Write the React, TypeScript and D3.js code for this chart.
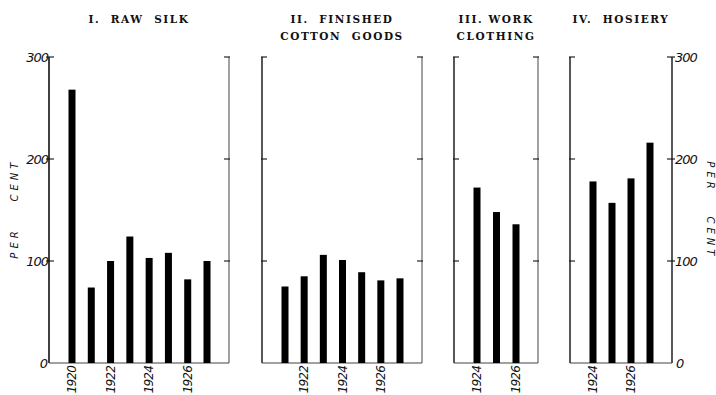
import React from "react";
import * as d3 from "d3";

const rawSilkYears = [1920, 1921, 1922, 1923, 1924, 1925, 1926, 1927];
const rawSilkValues = [268, 74, 100, 124, 103, 108, 82, 100];
const rawSilkLabels = [1920, 1922, 1924, 1926];

const cottonYears = [1921, 1922, 1923, 1924, 1925, 1926, 1927];
const cottonValues = [75, 85, 106, 101, 89, 81, 83];
const cottonLabels = [1922, 1924, 1926];

const workYears = [1924, 1925, 1926];
const workValues = [172, 148, 136];
const workLabels = [1924, 1926];

const hosieryYears = [1924, 1925, 1926, 1927];
const hosieryValues = [178, 157, 181, 216];
const hosieryLabels = [1924, 1926];

const yTicks = [0, 100, 200, 300];
const yLabelWords = ["PER", "CENT"];

const panels = [
  { title: ["I.  RAW  SILK"], years: rawSilkYears, values: rawSilkValues, labels: rawSilkLabels, left: 49, right: 229 },
  { title: ["II.  FINISHED", "COTTON  GOODS"], years: cottonYears, values: cottonValues, labels: cottonLabels, left: 262, right: 422 },
  { title: ["III. WORK", "CLOTHING"], years: workYears, values: workValues, labels: workLabels, left: 454, right: 538 },
  { title: ["IV.  HOSIERY"], years: hosieryYears, values: hosieryValues, labels: hosieryLabels, left: 570, right: 672 },
];

const W = 716;
const H = 395;
const yScale = d3.scaleLinear().domain([0, 300]).range([363, 57]);
const numFont = "'DejaVu Sans', sans-serif";
const titleFont = "'DejaVu Serif', 'Liberation Serif', serif";

export default function App() {
  const y0 = yScale(0);
  const yTop = yScale(300);
  return (
    <svg width={W} height={H} style={{ position: "absolute", left: 0, top: 0, background: "#fff" }}>
      <rect x={0} y={0} width={W} height={H} fill="#fff" />
      {panels.map((p, i) => {
        const x = d3.scalePoint<number>().domain(p.years).range([p.left + 23, p.right - 22]);
        const cx = (p.left + p.right) / 2;
        const isFirst = i === 0;
        const isLast = i === panels.length - 1;
        return (
          <g key={i}>
            {p.title.map((t, j) => (
              <text key={j} x={cx} y={23 + j * 16.5} textAnchor="middle" fontFamily={titleFont}
                fontWeight="bold" fontSize={10.5} letterSpacing={1.6} fill="#111" style={{ whiteSpace: "pre" }}>{t}</text>
            ))}
            {/* frame */}
            <line x1={p.left} x2={p.left} y1={yTop} y2={y0} stroke="#111" strokeWidth={isFirst ? 1.6 : 1.4} />
            <line x1={p.right} x2={p.right} y1={yTop} y2={y0} stroke={isLast ? "#111" : "#555"} strokeWidth={isLast ? 1.4 : 1.1} />
            <line x1={p.left} x2={p.right} y1={y0} y2={y0} stroke="#444" strokeWidth={1.1} />
            {yTicks.filter((t) => t > 0).map((t) => (
              <g key={t}>
                <line x1={p.left - (isFirst ? 3 : 1)} x2={p.left + 5} y1={yScale(t)} y2={yScale(t)} stroke="#111" strokeWidth={1.1} />
                <line x1={p.right - 5} x2={p.right + (isLast ? 3 : 1)} y1={yScale(t)} y2={yScale(t)} stroke="#111" strokeWidth={1.1} />
              </g>
            ))}
            {/* bars */}
            {p.years.map((yr, k) => (
              <rect key={yr} x={(x(yr) as number) - 3.5} width={7} y={yScale(p.values[k])}
                height={y0 - yScale(p.values[k])} fill="#000" />
            ))}
            {/* year labels */}
            {p.labels.map((yr) => (
              <text key={yr} transform={`translate(${(x(yr) as number) + 4.2},${y0 + 3}) rotate(-90)`}
                textAnchor="end" fontFamily={numFont} fontStyle="italic" fontSize={12} letterSpacing={-0.8} fill="#111">{yr}</text>
            ))}
          </g>
        );
      })}
      {/* left axis labels */}
      {yTicks.map((t) => (
        <text key={"l" + t} x={t === 0 ? 47 : 48} y={yScale(t) + 4.5} textAnchor="end" fontFamily={numFont}
          fontStyle="italic" fontSize={13} letterSpacing={-1} fill="#111">{t}</text>
      ))}
      {yTicks.map((t) => (
        <text key={"r" + t} x={t === 0 ? 676 : 675} y={yScale(t) + 4.5} textAnchor="start" fontFamily={numFont}
          fontStyle="italic" fontSize={13} letterSpacing={-1} fill="#111">{t}</text>
      ))}
      {/* PER CENT, left (reads upward) */}
      <text transform={`translate(18,243) rotate(-90)`} textAnchor="middle" fontFamily={numFont}
        fontStyle="italic" fontSize={10} letterSpacing={4} fill="#111">{yLabelWords[0]}</text>
      <text transform={`translate(18,180) rotate(-90)`} textAnchor="middle" fontFamily={numFont}
        fontStyle="italic" fontSize={10} letterSpacing={4} fill="#111">{yLabelWords[1]}</text>
      {/* PER CENT, right (reads downward) */}
      <text transform={`translate(707,177) rotate(90)`} textAnchor="middle" fontFamily={numFont}
        fontStyle="italic" fontSize={10} letterSpacing={4} fill="#111">{yLabelWords[0]}</text>
      <text transform={`translate(707,238) rotate(90)`} textAnchor="middle" fontFamily={numFont}
        fontStyle="italic" fontSize={10} letterSpacing={4} fill="#111">{yLabelWords[1]}</text>
    </svg>
  );
}
